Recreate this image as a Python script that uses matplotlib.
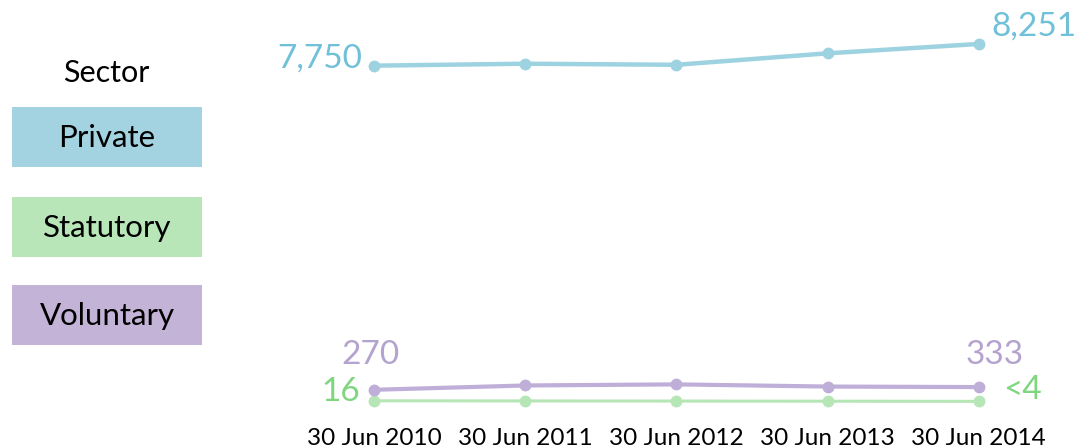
import matplotlib.pyplot as plt
from matplotlib.patches import Rectangle

# Data
dates = ["30 Jun 2010", "30 Jun 2011", "30 Jun 2012", "30 Jun 2013", "30 Jun 2014"]
private = [7750, 7795, 7770, 8035, 8251]
statutory = [16, 13, 10, 7, 3]
voluntary = [270, 370, 395, 345, 333]

sectors = ["Private", "Statutory", "Voluntary"]
box_colors = ["#a3d3e1", "#b9e6b9", "#c3b3d6"]
line_colors = ["#9dd2e0", "#b6e5b6", "#bfaed7"]
label_colors = ["#6fc0d8", "#7fd67f", "#b4a3cf"]

first_labels = ["7,750", "16", "270"]
last_labels = ["8,251", "<4", "333"]

plt.rcParams['font.family'] = ['Lato', 'DejaVu Sans']

W, H = 1075, 448
fig = plt.figure(figsize=(W / 100, H / 100), dpi=100)

ax = fig.add_axes([298.4 / W, 1 - 401.5 / H, 756 / W, 390 / H])
x = list(range(len(dates)))

series = [private, statutory, voluntary]
widths = [3.2, 2.2, 3.0]
for vals, col, lw in zip(series, line_colors, widths):
    ax.plot(x, vals, color=col, lw=lw, marker='o', ms=7.5, zorder=3, clip_on=False)

ax.set_xlim(-0.5, 4.5)
ax.set_ylim(0, 9000)
ax.set_xticks(x)
ax.set_xticklabels(dates, fontsize=17.5)
ax.tick_params(axis='x', length=0, pad=19)
ax.set_yticks([])
for s in ax.spines.values():
    s.set_visible(False)

# end labels (offsets in pixels)
first_off = [(-12, 7, 'right'), (-14, 9, 'right'), (-4, 35, 'center')]
last_off = [(13, 17, 'left'), (24, 11, 'left'), (16, 32, 'center')]
for vals, col, fl, ll, fo, lo in zip(series, label_colors, first_labels, last_labels, first_off, last_off):
    ax.annotate(fl, (x[0], vals[0]), xytext=fo[:2], textcoords='offset pixels',
                ha=fo[2], va='center', color=col, fontsize=24)
    ax.annotate(ll, (x[-1], vals[-1]), xytext=lo[:2], textcoords='offset pixels',
                ha=lo[2], va='center', color=col, fontsize=24)

# legend panel on the left, pixel coordinates
lax = fig.add_axes([0, 0, 1, 1])
lax.set_xlim(0, W)
lax.set_ylim(H, 0)
lax.axis('off')
lax.text(106, 73, "Sector", ha='center', va='center', fontsize=22, color='black')
box_tops = [107, 197, 285]
for name, col, top in zip(sectors, box_colors, box_tops):
    lax.add_patch(Rectangle((12, top), 190, 60, facecolor=col, edgecolor='none'))
    lax.text(107, top + 31, name, ha='center', va='center', fontsize=22.5, color='black')

fig.savefig("out.png", dpi=100)
